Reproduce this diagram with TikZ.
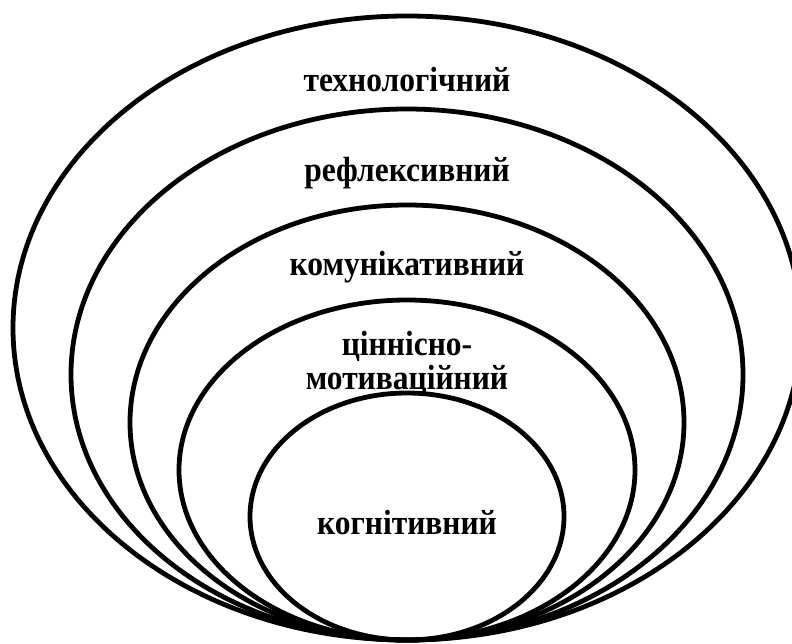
\documentclass[tikz,border=0pt]{standalone}
\usepackage{fontspec}
\setmainfont{Liberation Serif}
\newfontfamily\lblfont{Liberation Serif}[FakeStretch=0.9]
\begin{document}
\begin{tikzpicture}[x=1pt,y=-1pt,
  ring/.style={draw=black,line width=4.8pt},
  lbl/.style={font=\lblfont\bfseries\fontsize{35}{34}\selectfont,align=center,inner sep=0pt}]
\useasboundingbox (0,0) rectangle (792,644);
\begin{scope}
\clip (0,0) rectangle (792,644);
\draw[ring] (407,328) ellipse [x radius=394, y radius=312];
\draw[ring] (407,374.5) ellipse [x radius=336, y radius=265.5];
\draw[ring] (407,422.5) ellipse [x radius=277, y radius=217.5];
\draw[ring] (407,470) ellipse [x radius=228, y radius=170];
\draw[ring] (407,516.5) ellipse [x radius=157, y radius=123.5];
\end{scope}
\node[lbl] (t1) at (407,80) {технологічний};
\node[lbl] (t2) at (407,173) {рефлексивний};
\node[lbl] (t3) at (407,267) {комунікативний};
\node[lbl] (t4) at (407,363) {ціннісно-\\мотиваційний};
\node[lbl] (t5) at (407,523) {когнітивний};
\end{tikzpicture}
\end{document}
